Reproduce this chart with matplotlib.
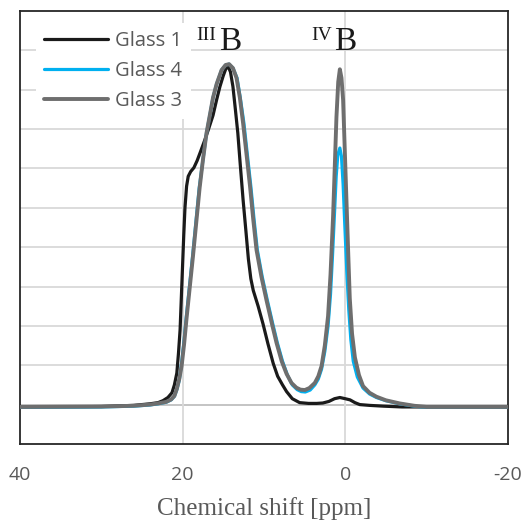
import numpy as np
import matplotlib
matplotlib.use("Agg")
import matplotlib.pyplot as plt

# Chemical shift (ppm) and intensity for each glass
g1_x = [40, 30, 26, 24, 23, 22.4, 21.8, 21.3, 21.0, 20.7, 20.5, 20.3, 20.15, 20.0, 19.85, 19.7,
        19.5, 19.3, 19.0, 18.6, 18.2, 17.8, 17.3, 16.8, 16.25, 15.8, 15.4, 15.0, 14.7, 14.4,
        14.1, 13.8, 13.5, 13.2, 12.9, 12.55, 12.2, 11.9, 11.6, 11.3, 10.7, 10.1, 9.5, 8.85,
        8.3, 7.7, 7.2, 6.5, 5.6, 4.5, 3.5, 2.75, 2.0, 1.3, 0.65, 0.0, -0.6, -1.2, -1.8, -3.0,
        -4.7, -7, -20]
g1_y = [-0.06, -0.05, -0.02, 0.02, 0.05, 0.1, 0.18, 0.3, 0.5, 0.8, 1.3, 1.9, 2.7, 3.5, 4.3, 5.0,
        5.55, 5.8, 5.92, 6.02, 6.2, 6.42, 6.7, 7.0, 7.35, 7.75, 8.08, 8.35, 8.52, 8.6,
        8.45, 8.08, 7.5, 6.9, 6.1, 5.2, 4.4, 3.7, 3.2, 2.9, 2.5, 2.05, 1.55, 1.05,
        0.72, 0.5, 0.33, 0.15, 0.05, 0.03, 0.03, 0.04, 0.08, 0.15, 0.18, 0.15, 0.12, 0.05, 0.0, -0.02,
        -0.04, -0.06, -0.06]

g3_x = [40, 30, 26, 24, 23, 22, 21.4, 21.0, 20.7, 20.4, 20.1, 19.8, 19.5, 19.1, 18.7, 18.3, 17.9,
        17.5, 17.05, 16.6, 16.25, 15.8, 15.2, 14.7, 14.27, 13.8, 13.36, 12.95, 12.55, 12.1,
        11.7, 11.3, 10.9, 10.3, 9.67, 9.0, 8.44, 7.8, 7.2, 6.6, 6.0, 5.5, 4.96, 4.4, 3.73,
        3.3, 2.9, 2.5, 2.1, 1.8, 1.48, 1.25, 1.07, 0.85, 0.65, 0.45, 0.25, 0.05, -0.16, -0.37,
        -0.57, -0.85, -1.2, -1.7, -2.2, -3.0, -3.85, -5.0, -6.7, -8.5, -10, -20]
g3_y = [-0.06, -0.05, -0.03, 0.0, 0.03, 0.07, 0.13, 0.22, 0.4, 0.65, 1.0, 1.55, 2.2, 3.0, 3.8, 4.65, 5.5,
        6.2, 6.9, 7.4, 7.8, 8.15, 8.5, 8.63, 8.65, 8.55, 8.3, 7.8, 7.15, 6.3,
        5.55, 4.7, 3.93, 3.25, 2.65, 2.05, 1.57, 1.1, 0.78, 0.55, 0.43, 0.38, 0.37, 0.42, 0.55,
        0.72, 0.98, 1.5, 2.25, 3.3, 4.8, 6.2, 7.3, 8.2, 8.52, 8.3, 7.74, 6.5, 5.2, 3.9,
        2.7, 1.8, 1.2, 0.75, 0.47, 0.3, 0.2, 0.11, 0.03, -0.03, -0.06, -0.06]

g4_x = [40, 30, 26, 24, 23, 22, 21.4, 21.0, 20.7, 20.4, 20.15, 19.85, 19.55, 19.15, 18.75, 18.35, 17.95,
        17.5, 17.05, 16.6, 16.25, 15.8, 15.2, 14.7, 14.27, 13.8, 13.3, 12.9, 12.45, 12.0,
        11.6, 11.2, 10.8, 10.2, 9.57, 8.9, 8.34, 7.7, 7.1, 6.5, 5.9, 5.4, 4.9, 4.3, 3.73,
        3.3, 2.9, 2.5, 2.1, 1.8, 1.55, 1.3, 1.1, 0.9, 0.65, 0.45, 0.25, 0.05, -0.2, -0.45,
        -0.7, -1.0, -1.5, -2.2, -3.0, -3.85, -5.0, -6.7, -8.5, -10, -20]
g4_y = [-0.07, -0.06, -0.04, -0.01, 0.02, 0.06, 0.12, 0.21, 0.38, 0.62, 1.0, 1.55, 2.2, 3.0, 3.8, 4.65, 5.5,
        6.2, 6.9, 7.4, 7.8, 8.15, 8.5, 8.63, 8.65, 8.55, 8.3, 7.8, 7.15, 6.3,
        5.55, 4.7, 3.93, 3.25, 2.65, 2.05, 1.57, 1.1, 0.75, 0.5, 0.38, 0.33, 0.32, 0.37, 0.5,
        0.65, 0.9, 1.35, 2.0, 2.8, 3.8, 4.9, 5.8, 6.35, 6.52, 6.3, 5.6, 4.6, 3.4, 2.4,
        1.65, 1.1, 0.7, 0.42, 0.27, 0.18, 0.1, 0.02, -0.04, -0.07, -0.07]

series_names = ["Glass 1", "Glass 4", "Glass 3"]
x_ticks = [40, 20, 0, -20]
x_tick_labels = ["40", "20", "0", "-20"]
peak_labels = [("III", "B", 18.3, 15.45), ("IV", "B", 4.2, 1.35)]

fig = plt.figure(figsize=(5.24, 5.26), dpi=100)
ax = fig.add_axes([0.038, 0.156, 0.931, 0.823])

ax.set_xlim(40, -20)
ax.set_ylim(-1, 10)

for y in range(1, 10):
    ax.axhline(y, color="#d9d9d9", lw=1.3, zorder=0)
ax.axhline(0, color="#bfbfbf", lw=1.3, zorder=0)
for xv in [20, 0]:
    ax.axvline(xv, color="#d9d9d9", lw=1.3, zorder=0)

kw = dict(solid_joinstyle="round", solid_capstyle="round")
ax.plot(g1_x, g1_y, color="#1a1a1a", lw=2.3, label=series_names[0], zorder=3, **kw)
ax.plot(g4_x, g4_y, color="#00b0f0", lw=2.3, label=series_names[1], zorder=4, **kw)
ax.plot(g3_x, g3_y, color="#6e6e6e", lw=2.8, label=series_names[2], zorder=5, **kw)

h, l = ax.get_legend_handles_labels()
leg = ax.legend(h, l, loc="upper left", bbox_to_anchor=(0.012, 0.995), frameon=True,
                facecolor="white", edgecolor="none", framealpha=1.0, fancybox=False,
                prop={"family": "Open Sans", "size": 14.5}, handlelength=3.2,
                labelspacing=0.48, handletextpad=0.35, borderpad=0.4, labelcolor="#595959")
leg.set_zorder(6)

for sup, main, xs, xb in peak_labels:
    ax.text(xs, 9.27, sup, family="Liberation Serif", fontsize=14, color="#1a1a1a",
            ha="left", va="baseline", zorder=7)
    ax.text(xb, 9.0, main, family="Liberation Serif", fontsize=24, color="#1a1a1a",
            ha="left", va="baseline", zorder=7)

ax.set_xticks(x_ticks)
ax.set_xticklabels(x_tick_labels, family="Open Sans", fontsize=14, color="#595959")
ax.tick_params(axis="x", length=0, pad=16)
ax.set_yticks([])
ax.set_xlabel("Chemical shift [ppm]", family="Liberation Serif", fontsize=18,
              color="#595959", labelpad=9)

for s in ax.spines.values():
    s.set_color("#262626")
    s.set_linewidth(1.3)

fig.savefig("out.png", dpi=100)
